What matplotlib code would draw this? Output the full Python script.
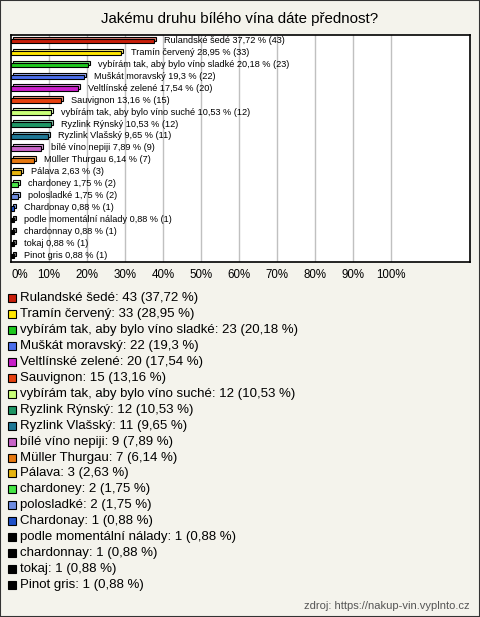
import matplotlib

matplotlib.use("Agg")
import matplotlib.pyplot as plt
import matplotlib.colors as mcolors
from matplotlib.patches import Rectangle

plt.rcParams["font.family"] = ["Liberation Sans", "DejaVu Sans"]

labels = [
    "Rulandské šedé", "Tramín červený", "vybírám tak, aby bylo víno sladké",
    "Muškát moravský", "Veltlínské zelené", "Sauvignon",
    "vybírám tak, aby bylo víno suché", "Ryzlink Rýnský", "Ryzlink Vlašský",
    "bílé víno nepiji", "Müller Thurgau", "Pálava", "chardoney", "polosladké",
    "Chardonay", "podle momentální nálady", "chardonnay", "tokaj", "Pinot gris",
]
counts = [43, 33, 23, 22, 20, 15, 12, 12, 11, 9, 7, 3, 2, 2, 1, 1, 1, 1, 1]
percents = [37.72, 28.95, 20.18, 19.3, 17.54, 13.16, 10.53, 10.53, 9.65, 7.89,
            6.14, 2.63, 1.75, 1.75, 0.88, 0.88, 0.88, 0.88, 0.88]
colors = ["#c81e0a", "#ffe600", "#1ec81e", "#4b6eeb", "#c81ec8", "#e6410f",
          "#c8ff78", "#1e9664", "#1e7896", "#c864c8", "#e6780f", "#e6b40f",
          "#46e646", "#6e8ce1", "#1e50c8", "#000000", "#000000", "#000000",
          "#000000"]
ticks = list(range(0, 101, 10))
title = "Jakému druhu bílého vína dáte přednost?"
source = "zdroj: https://nakup-vin.vyplnto.cz"

bg = "#f4f3ec"
fig = plt.figure(figsize=(4.8, 6.17), dpi=100, facecolor=bg)
fig.patches.append(Rectangle((0, 0), 1, 1, transform=fig.transFigure,
                             fill=False, edgecolor="#333333", linewidth=1.5))

fig.text(0.5, 1 - 19 / 617, title, ha="center", va="center", fontsize=10.8)

ax = fig.add_axes([11 / 480, 1 - 262 / 617, 459 / 480, 227 / 617])
ax.set_facecolor("white")
ax.set_xlim(0, 120.8)
ax.set_ylim(len(labels) - 0.5, -0.5)
for t in ticks[1:]:
    ax.axvline(t, color="#c0c0c0", linewidth=1, zorder=0)

h = 0.38
dx, dy = 0.5, 0.17
for i, (lab, c, p, col) in enumerate(zip(labels, counts, percents, colors)):
    light = mcolors.to_rgb(col)
    light = tuple(v + (1 - v) * 0.45 for v in light)
    ax.barh(i - dy, p, height=h, left=dx, color=light, edgecolor="black",
            linewidth=0.8, zorder=2)
    ax.barh(i, p, height=h, color=col, edgecolor="black", linewidth=0.8,
            zorder=3)
    ax.text(p + 2.6, i - 0.05, f"{lab} {p:g} % ({c})".replace(".", ","),
            va="center", ha="left", fontsize=6.6, zorder=4)

ax.set_yticks([])
ax.set_xticks(ticks)
ax.set_xticklabels([f"{t}%" for t in ticks], fontsize=8.3)
ax.get_xticklabels()[0].set_ha("left")
ax.tick_params(axis="x", length=0, pad=5)
for s in ax.spines.values():
    s.set_linewidth(1.2)
    s.set_color("black")

top = 298
step = 15.95
for i, (lab, c, p, col) in enumerate(zip(labels, counts, percents, colors)):
    y = 1 - (top + i * step) / 617
    fig.patches.append(Rectangle((8 / 480, y - 4 / 617), 8 / 480, 8 / 617,
                                 transform=fig.transFigure, facecolor=col,
                                 edgecolor="black", linewidth=0.8))
    fig.text(20 / 480, y, f"{lab}: {c} ({p:g} %)".replace(".", ","),
             va="center", ha="left", fontsize=9.5)

fig.text(470 / 480, 1 - 606 / 617, source, ha="right", va="center",
         fontsize=8, color="#555555")

fig.savefig("out.png", dpi=100, facecolor=bg)
